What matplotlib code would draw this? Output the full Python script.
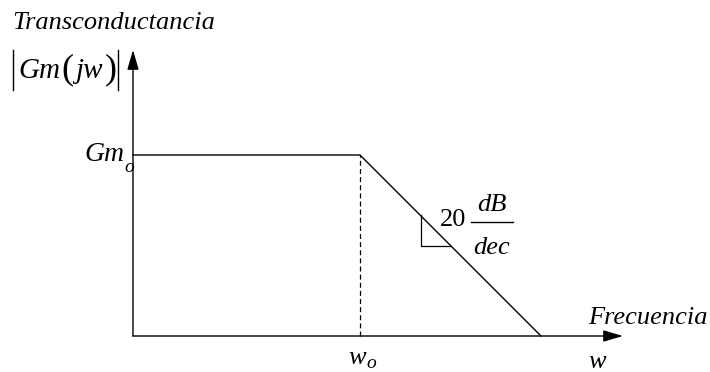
import matplotlib
matplotlib.use("Agg")
import matplotlib.pyplot as plt

# asymptotic magnitude of |Gm(jw)|, in plot units (1 unit = 100 px)
w_pts = [0.0, 2.27, 4.08]        # 0, w_o, where the slope hits the axis
gm_pts = [1.81, 1.81, 0.0]       # Gm_o flat, then -20 dB/dec
w_o = 2.27
gm_o = 1.81
x_end = 4.90
y_end = 2.86
tri_x = [2.88, 2.88, 3.18]       # little slope triangle
tri_y = [1.21, 0.90, 0.90]

serif = "Liberation Serif"

fig = plt.figure(figsize=(7.10, 3.72), dpi=100)
ax = fig.add_axes([0, 0, 1, 1])
ax.set_xlim(-1.33, 5.77)
ax.set_ylim(-0.36, 3.36)
ax.axis("off")

# axes with arrows
arr = dict(arrowstyle="-|>,head_length=1.2,head_width=0.35", color="black",
           lw=1.0, shrinkA=0, shrinkB=0)
ax.annotate("", xy=(x_end, 0), xytext=(0, 0), arrowprops=arr)
ax.annotate("", xy=(0, y_end), xytext=(0, 0), arrowprops=arr)

ax.plot(w_pts, gm_pts, color="black", lw=1.0)
ax.plot([w_o, w_o], [0, gm_o], color="black", lw=0.9, ls=(0, (4, 2.5)))
ax.plot(tri_x, tri_y, color="black", lw=0.9)

it = dict(family=serif, style="italic", color="black")
up = dict(family=serif, color="black")

ax.text(-1.21, 3.13, "Transconductancia", fontsize=19, va="center", **it)

# |Gm( jw)|
ax.plot([-1.20, -1.20], [2.46, 2.86], color="black", lw=1.0)
ax.plot([-0.15, -0.15], [2.46, 2.86], color="black", lw=1.0)
ax.text(-1.15, 2.65, "Gm", fontsize=21, va="center", **it)
ax.text(-0.72, 2.66, "(", fontsize=26, va="center", **up)
ax.text(-0.58, 2.65, "jw", fontsize=21, va="center", **it)
ax.text(-0.28, 2.66, ")", fontsize=26, va="center", **up)

# Gm_o label
ax.text(-0.49, 1.81, "Gm", fontsize=20, va="center", **it)
ax.text(-0.09, 1.68, "o", fontsize=14, va="center", **it)

# 20 dB/dec
ax.text(3.07, 1.16, "20", fontsize=19, va="center", **up)
ax.plot([3.38, 3.80], [1.14, 1.14], color="black", lw=1.0)
ax.text(3.59, 1.31, "dB", fontsize=19, va="center", ha="center", **it)
ax.text(3.59, 0.88, "dec", fontsize=19, va="center", ha="center", **it)

# x-axis labels
ax.text(4.55, 0.18, "Frecuencia", fontsize=19, va="center", **it)
ax.text(2.15, -0.22, "w", fontsize=19, va="center", **it)
ax.text(2.33, -0.28, "o", fontsize=14, va="center", **it)
ax.text(4.55, -0.26, "w", fontsize=19, va="center", **it)

fig.savefig("out.png", dpi=100)
